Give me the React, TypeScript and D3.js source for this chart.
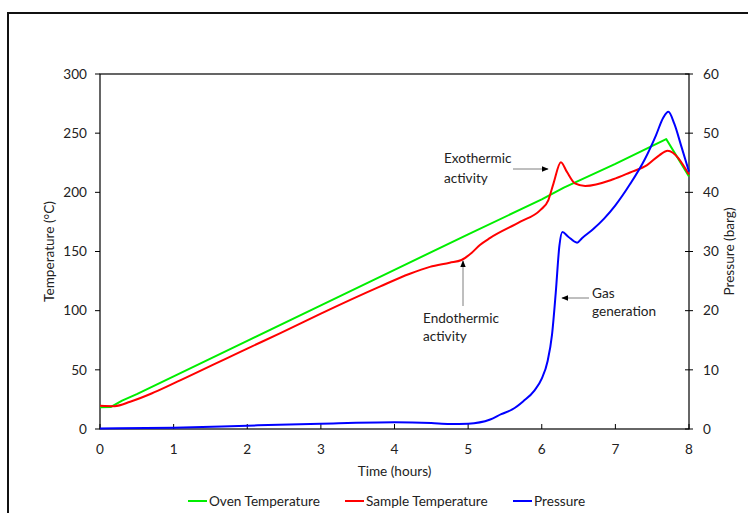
import * as d3 from "d3";
import React from "react";

type Pt = [number, number];

// time (hours), oven temperature (°C)
const ovenTemp: Pt[] = [
  [0, 18.4], [0.15, 18.6], [0.3, 24], [0.5, 29.5], [1, 44.5], [2, 74.5],
  [3, 104.5], [4, 134.5], [5, 164.5], [6, 194], [6.3, 204], [7, 224],
  [7.69, 245], [8, 213.5],
];

// time (hours), sample temperature (°C)
const sampleTemp: Pt[] = [
  [0, 19.6], [0.2, 19.3], [0.41, 23], [0.7, 30], [1, 38.5], [2, 68],
  [2.45, 81], [3, 97.5], [3.8, 120.3], [4.2, 131], [4.48, 137], [4.75, 140.5],
  [4.91, 142.8], [5.05, 149], [5.16, 155.5], [5.3, 161.5], [5.71, 175.2], [5.98, 185],
  [6.09, 193.5], [6.16, 207.6], [6.26, 225.4], [6.34, 217.5], [6.45, 207.6],
  [6.59, 205.4], [6.97, 211], [7.2, 216.8], [7.43, 223], [7.6, 231.5],
  [7.71, 235.2], [8, 215],
];

// time (hours), pressure (barg)
const pressure: Pt[] = [
  [0, 0.1], [1, 0.22], [2, 0.57], [3, 0.9], [4, 1.13], [4.5, 1.0],
  [4.75, 0.85], [5, 0.9], [5.3, 1.6], [5.45, 2.5], [5.6, 3.3], [5.75, 4.7],
  [5.9, 6.5], [6.0, 8.5], [6.08, 11.5], [6.14, 16], [6.19, 23], [6.24, 31],
  [6.28, 33.3], [6.36, 32.5], [6.48, 31.5], [6.55, 32.3], [6.7, 33.8],
  [6.85, 35.6], [7.0, 37.8], [7.2, 41.4], [7.4, 45.6], [7.55, 49.6],
  [7.65, 52.6], [7.72, 53.6], [7.8, 51.6], [7.9, 47.6], [8, 43.5],
];

const xTicks = [0, 1, 2, 3, 4, 5, 6, 7, 8];
const tempTicks = [0, 50, 100, 150, 200, 250, 300];
const pressTicks = [0, 10, 20, 30, 40, 50, 60];

const seriesNames = ["Oven Temperature", "Sample Temperature", "Pressure"];
const seriesColors = ["#00ee00", "#ff0000", "#0000ff"];

const font = "Lato, 'Open Sans', sans-serif";

const App: React.FC = () => {
  const left = 100, right = 689, top = 74, bottom = 429;
  const x = d3.scaleLinear().domain([0, 8]).range([left, right]);
  const yT = d3.scaleLinear().domain([0, 300]).range([bottom, top]);
  const yP = d3.scaleLinear().domain([0, 60]).range([bottom, top]);

  const lineOven = d3.line<Pt>().x((d) => x(d[0])).y((d) => yT(d[1]));
  const lineT = d3.line<Pt>().x((d) => x(d[0])).y((d) => yT(d[1])).curve(d3.curveMonotoneX);
  const lineP = d3.line<Pt>().x((d) => x(d[0])).y((d) => yP(d[1])).curve(d3.curveMonotoneX);

  const legendX = [188, 345, 513];

  return (
    <svg
      width={748}
      height={513}
      style={{ position: "absolute", left: 0, top: 0, display: "block" }}
      fontFamily={font}
      fontSize={13.6}
    >
      <defs>
        <marker id="ah" viewBox="0 0 10 10" refX="9" refY="5" markerWidth="7" markerHeight="7" orient="auto">
          <path d="M0,1 L10,5 L0,9 z" fill="#000" />
        </marker>
      </defs>
      <rect x={0} y={0} width={748} height={513} fill="#fff" />
      <rect x={8} y={13} width={800} height={600} fill="none" stroke="#111" strokeWidth={2} />

      {/* plot box */}
      <rect x={left} y={top} width={right - left} height={bottom - top} fill="none" stroke="#000" strokeWidth={1.2} />

      {/* left axis */}
      {tempTicks.map((t) => (
        <g key={"l" + t}>
          <line x1={left - 5} x2={left} y1={yT(t)} y2={yT(t)} stroke="#000" />
          <text x={left - 13} y={yT(t)} dy="0.35em" textAnchor="end" fill="#222">{t}</text>
        </g>
      ))}
      {/* right axis */}
      {pressTicks.map((t) => (
        <g key={"r" + t}>
          <line x1={right - 4} x2={right + 4} y1={yP(t)} y2={yP(t)} stroke="#000" />
          <text x={right + 14} y={yP(t)} dy="0.35em" textAnchor="start" fill="#222">{t}</text>
        </g>
      ))}
      {/* bottom axis */}
      {xTicks.map((t) => (
        <g key={"b" + t}>
          <line x1={x(t)} x2={x(t)} y1={bottom} y2={bottom - 5} stroke="#000" />
          <text x={x(t)} y={449} dy="0.35em" textAnchor="middle" fill="#222">{t}</text>
        </g>
      ))}

      <text x={(left + right) / 2} y={471} dy="0.35em" textAnchor="middle" fill="#222">Time (hours)</text>
      <text transform={`translate(49,${(top + bottom) / 2}) rotate(-90)`} dy="0.35em" textAnchor="middle" fill="#222">
        Temperature (°C)
      </text>
      <text transform={`translate(729,${(top + bottom) / 2}) rotate(-90)`} dy="0.35em" textAnchor="middle" fill="#222">
        Pressure (barg)
      </text>

      {/* series */}
      <path d={lineOven(ovenTemp) || ""} fill="none" stroke={seriesColors[0]} strokeWidth={2} strokeLinejoin="round" />
      <path d={lineT(sampleTemp) || ""} fill="none" stroke={seriesColors[1]} strokeWidth={2} />
      <path d={lineP(pressure) || ""} fill="none" stroke={seriesColors[2]} strokeWidth={2} />

      {/* annotations */}
      <text x={444} y={158} dy="0.35em" fill="#222">Exothermic</text>
      <text x={444} y={178} dy="0.35em" fill="#222">activity</text>
      <line x1={513} y1={169} x2={548} y2={169} stroke="#7f7f7f" markerEnd="url(#ah)" />

      <text x={423} y={318} dy="0.35em" fill="#222">Endothermic</text>
      <text x={423} y={336} dy="0.35em" fill="#222">activity</text>
      <line x1={463} y1={306} x2={463} y2={261} stroke="#7f7f7f" markerEnd="url(#ah)" />

      <text x={592} y={293} dy="0.35em" fill="#222">Gas</text>
      <text x={592} y={311} dy="0.35em" fill="#222">generation</text>
      <line x1={589} y1={298} x2={562} y2={298} stroke="#7f7f7f" markerEnd="url(#ah)" />

      {/* legend */}
      {seriesNames.map((n, i) => (
        <g key={n}>
          <line x1={legendX[i]} x2={legendX[i] + 19} y1={501} y2={501} stroke={seriesColors[i]} strokeWidth={2} />
          <text x={legendX[i] + 21} y={501} dy="0.35em" fill="#222">{n}</text>
        </g>
      ))}
    </svg>
  );
};

export default App;
